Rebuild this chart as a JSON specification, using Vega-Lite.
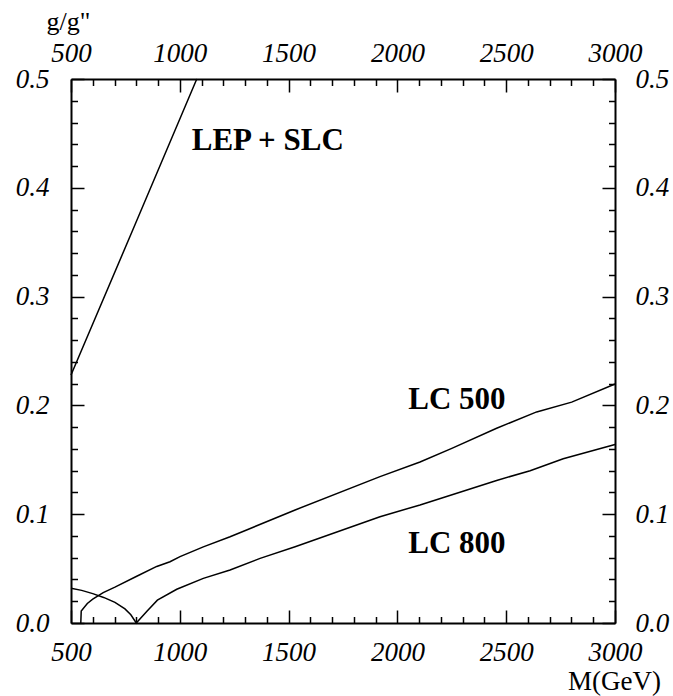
{
  "$schema": "https://vega.github.io/schema/vega-lite/v6.json",
  "width": 544,
  "height": 544,
  "autosize": {"type": "none"},
  "padding": {"left": 71, "top": 79, "right": 58, "bottom": 73},
  "background": "white",
  "config": {
    "view": {"stroke": null},
    "font": "Liberation Serif",
    "axis": {
      "grid": false,
      "labelFont": "Liberation Serif",
      "labelFontStyle": "italic",
      "labelFontSize": 27,
      "labelColor": "black",
      "domainColor": "black",
      "domainWidth": 2,
      "tickColor": "black",
      "tickWidth": 1.5,
      "labelFlush": false,
      "labelOverlap": false,
      "titleFont": "Liberation Serif",
      "titleFontWeight": "normal",
      "titleColor": "black"
    }
  },
  "datasets": {
    "curves": [
      {"curve": "LEP + SLC", "M": 500, "g": 0.228},
      {"curve": "LEP + SLC", "M": 794, "g": 0.366},
      {"curve": "LEP + SLC", "M": 1078, "g": 0.5},
      {"curve": "LC 500", "M": 545, "g": 0.0},
      {"curve": "LC 500", "M": 547, "g": 0.011},
      {"curve": "LC 500", "M": 575, "g": 0.018},
      {"curve": "LC 500", "M": 600, "g": 0.022},
      {"curve": "LC 500", "M": 648, "g": 0.028},
      {"curve": "LC 500", "M": 702, "g": 0.033},
      {"curve": "LC 500", "M": 802, "g": 0.043},
      {"curve": "LC 500", "M": 894, "g": 0.052},
      {"curve": "LC 500", "M": 955, "g": 0.0563},
      {"curve": "LC 500", "M": 1001, "g": 0.061},
      {"curve": "LC 500", "M": 1108, "g": 0.07},
      {"curve": "LC 500", "M": 1231, "g": 0.0793},
      {"curve": "LC 500", "M": 1307, "g": 0.0855},
      {"curve": "LC 500", "M": 1530, "g": 0.1039},
      {"curve": "LC 500", "M": 1920, "g": 0.1345},
      {"curve": "LC 500", "M": 2104, "g": 0.148},
      {"curve": "LC 500", "M": 2250, "g": 0.1605},
      {"curve": "LC 500", "M": 2456, "g": 0.179},
      {"curve": "LC 500", "M": 2640, "g": 0.194},
      {"curve": "LC 500", "M": 2801, "g": 0.203},
      {"curve": "LC 500", "M": 3000, "g": 0.2197},
      {"curve": "LC 800", "M": 500, "g": 0.032},
      {"curve": "LC 800", "M": 549, "g": 0.03},
      {"curve": "LC 800", "M": 600, "g": 0.027},
      {"curve": "LC 800", "M": 650, "g": 0.0235},
      {"curve": "LC 800", "M": 702, "g": 0.019},
      {"curve": "LC 800", "M": 748, "g": 0.013},
      {"curve": "LC 800", "M": 775, "g": 0.0075},
      {"curve": "LC 800", "M": 800, "g": 0.0},
      {"curve": "LC 800", "M": 850, "g": 0.011},
      {"curve": "LC 800", "M": 897, "g": 0.021},
      {"curve": "LC 800", "M": 986, "g": 0.031},
      {"curve": "LC 800", "M": 1108, "g": 0.041},
      {"curve": "LC 800", "M": 1231, "g": 0.0487},
      {"curve": "LC 800", "M": 1369, "g": 0.0594},
      {"curve": "LC 800", "M": 1530, "g": 0.0701},
      {"curve": "LC 800", "M": 1920, "g": 0.0977},
      {"curve": "LC 800", "M": 2104, "g": 0.1085},
      {"curve": "LC 800", "M": 2456, "g": 0.131},
      {"curve": "LC 800", "M": 2610, "g": 0.14},
      {"curve": "LC 800", "M": 2762, "g": 0.151},
      {"curve": "LC 800", "M": 3000, "g": 0.164}
    ],
    "labels": [
      {"label": "LEP + SLC", "M": 1055, "g": 0.4347},
      {"label": "LC 500", "M": 2050, "g": 0.1964},
      {"label": "LC 800", "M": 2050, "g": 0.0641}
    ]
  },
  "layer": [
    {
      "data": {"name": "curves"},
      "mark": {"type": "line", "color": "black", "strokeWidth": 1.5},
      "encoding": {
        "x": {
          "field": "M", "type": "quantitative",
          "scale": {"domain": [500, 3000], "nice": false, "zero": false},
          "axis": {
            "orient": "bottom", "values": [500, 1000, 1500, 2000, 2500, 3000], "format": "d",
            "ticks": false, "labelPadding": 16,
            "title": "M(GeV)", "titleX": 543, "titleY": 66, "titleAlign": "center",
            "titleBaseline": "alphabetic", "titleFontSize": 27, "titleAngle": 0
          }
        },
        "y": {
          "field": "g", "type": "quantitative",
          "scale": {"domain": [0, 0.5], "nice": false},
          "axis": {
            "orient": "left", "values": [0, 0.1, 0.2, 0.3, 0.4, 0.5], "format": ".1f",
            "ticks": false, "labelPadding": 22,
            "title": "g/g\"", "titleX": -3, "titleY": -49.6, "titleAngle": 0,
            "titleAlign": "center", "titleBaseline": "alphabetic", "titleFontSize": 26
          }
        },
        "detail": {"field": "curve", "type": "nominal"}
      }
    },
    {
      "data": {"name": "curves"},
      "mark": {"type": "point", "opacity": 0},
      "encoding": {
        "x": {"field": "M", "type": "quantitative",
          "axis": {"orient": "top", "values": [500, 1000, 1500, 2000, 2500, 3000], "format": "d", "ticks": false, "labelPadding": 12, "title": null}},
        "y": {"field": "g", "type": "quantitative",
          "axis": {"orient": "right", "values": [0, 0.1, 0.2, 0.3, 0.4, 0.5], "format": ".1f", "ticks": false, "labelPadding": 20, "title": null}}
      }
    },
    {
      "data": {"name": "curves"},
      "mark": {"type": "point", "opacity": 0},
      "encoding": {
        "x": {"field": "M", "type": "quantitative",
          "axis": {"orient": "bottom", "values": [500, 1000, 1500, 2000, 2500, 3000], "labels": false, "domain": false, "tickSize": -13, "title": null}},
        "y": {"field": "g", "type": "quantitative",
          "axis": {"orient": "left", "values": [0, 0.1, 0.2, 0.3, 0.4, 0.5], "labels": false, "domain": false, "tickSize": -13, "title": null}}
      }
    },
    {
      "data": {"name": "curves"},
      "mark": {"type": "point", "opacity": 0},
      "encoding": {
        "x": {"field": "M", "type": "quantitative",
          "axis": {"orient": "top", "values": [500, 1000, 1500, 2000, 2500, 3000], "labels": false, "domain": false, "tickSize": -13, "title": null}},
        "y": {"field": "g", "type": "quantitative",
          "axis": {"orient": "right", "values": [0, 0.1, 0.2, 0.3, 0.4, 0.5], "labels": false, "domain": false, "tickSize": -13, "title": null}}
      }
    },
    {
      "data": {"name": "curves"},
      "mark": {"type": "point", "opacity": 0},
      "encoding": {
        "x": {"field": "M", "type": "quantitative",
          "axis": {"orient": "bottom", "values": [600, 700, 800, 900, 1100, 1200, 1300, 1400, 1600, 1700, 1800, 1900, 2100, 2200, 2300, 2400, 2600, 2700, 2800, 2900], "labels": false, "domain": false, "tickSize": -6.5, "title": null}},
        "y": {"field": "g", "type": "quantitative",
          "axis": {"orient": "left", "values": [0.02, 0.04, 0.06, 0.08, 0.12, 0.14, 0.16, 0.18, 0.22, 0.24, 0.26, 0.28, 0.32, 0.34, 0.36, 0.38, 0.42, 0.44, 0.46, 0.48], "labels": false, "domain": false, "tickSize": -6.5, "title": null}}
      }
    },
    {
      "data": {"name": "curves"},
      "mark": {"type": "point", "opacity": 0},
      "encoding": {
        "x": {"field": "M", "type": "quantitative",
          "axis": {"orient": "top", "values": [600, 700, 800, 900, 1100, 1200, 1300, 1400, 1600, 1700, 1800, 1900, 2100, 2200, 2300, 2400, 2600, 2700, 2800, 2900], "labels": false, "domain": false, "tickSize": -6.5, "title": null}},
        "y": {"field": "g", "type": "quantitative",
          "axis": {"orient": "right", "values": [0.02, 0.04, 0.06, 0.08, 0.12, 0.14, 0.16, 0.18, 0.22, 0.24, 0.26, 0.28, 0.32, 0.34, 0.36, 0.38, 0.42, 0.44, 0.46, 0.48], "labels": false, "domain": false, "tickSize": -6.5, "title": null}}
      }
    },
    {
      "data": {"name": "labels"},
      "mark": {"type": "text", "font": "Liberation Serif", "fontWeight": "bold", "fontSize": 31, "align": "left", "baseline": "alphabetic", "color": "black"},
      "encoding": {
        "x": {"field": "M", "type": "quantitative", "axis": null},
        "y": {"field": "g", "type": "quantitative", "axis": null},
        "text": {"field": "label", "type": "nominal"}
      }
    }
  ],
  "resolve": {"axis": {"x": "independent", "y": "independent"}}
}
